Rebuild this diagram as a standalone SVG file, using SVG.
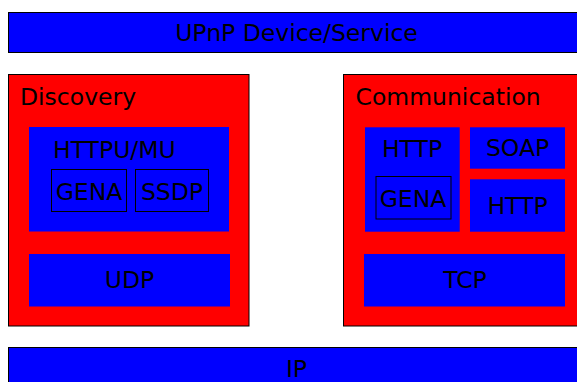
<svg xmlns="http://www.w3.org/2000/svg" width="577" height="382" viewBox="0 0 577 382">
  <style>
    .outer { fill: #ff0000; stroke: #000; stroke-width: 1; }
    .bar { fill: #0000ff; stroke: #000; stroke-width: 1; }
    .inner { fill: #0000ff; }
    .frame { fill: none; stroke: #000; stroke-width: 1; }
    text { font-family: "DejaVu Sans", sans-serif; font-size: 23.5px; fill: #000; }
    .c { text-anchor: middle; }
  </style>

  <g id="upnp">
    <rect class="bar" x="8.5" y="12.5" width="580" height="40"/>
    <text class="c" x="296.5" y="41">UPnP Device/Service</text>
  </g>

  <g id="discovery">
    <rect class="outer" x="8.5" y="74.5" width="240.5" height="251.5"/>
    <text x="20" y="105">Discovery</text>
  </g>

  <g id="httpu-mu">
    <rect class="inner" x="29" y="127" width="200" height="104.5"/>
    <text x="53" y="158">HTTPU/MU</text>
  </g>

  <g id="gena-discovery">
    <rect class="frame" x="51.5" y="169.5" width="75" height="42"/>
    <text class="c" x="89" y="200">GENA</text>
  </g>

  <g id="ssdp">
    <rect class="frame" x="135.5" y="169.5" width="73" height="42"/>
    <text class="c" x="172" y="200">SSDP</text>
  </g>

  <g id="udp">
    <rect class="inner" x="29" y="254" width="201" height="52.5"/>
    <text class="c" x="129.5" y="288">UDP</text>
  </g>

  <g id="communication">
    <rect class="outer" x="343.5" y="74.5" width="240" height="251.5"/>
    <text x="355.5" y="105">Communication</text>
  </g>

  <g id="http-gena">
    <rect class="inner" x="365" y="127.3" width="94.7" height="104.4"/>
    <text class="c" x="412" y="157">HTTP</text>
  </g>

  <g id="gena-communication">
    <rect class="frame" x="376" y="176.5" width="75" height="42.5"/>
    <text class="c" x="413" y="207">GENA</text>
  </g>

  <g id="soap">
    <rect class="inner" x="470" y="127.3" width="95" height="41.4"/>
    <text class="c" x="517.5" y="156">SOAP</text>
  </g>

  <g id="http">
    <rect class="inner" x="470" y="179.3" width="95" height="52.4"/>
    <text class="c" x="517.5" y="214">HTTP</text>
  </g>

  <g id="tcp">
    <rect class="inner" x="364" y="254" width="201" height="52.5"/>
    <text class="c" x="465" y="288">TCP</text>
  </g>

  <g id="ip">
    <rect class="bar" x="8.5" y="347.5" width="580" height="40"/>
    <text class="c" x="296.5" y="377">IP</text>
  </g>

  <g id="connectors"/>
</svg>
